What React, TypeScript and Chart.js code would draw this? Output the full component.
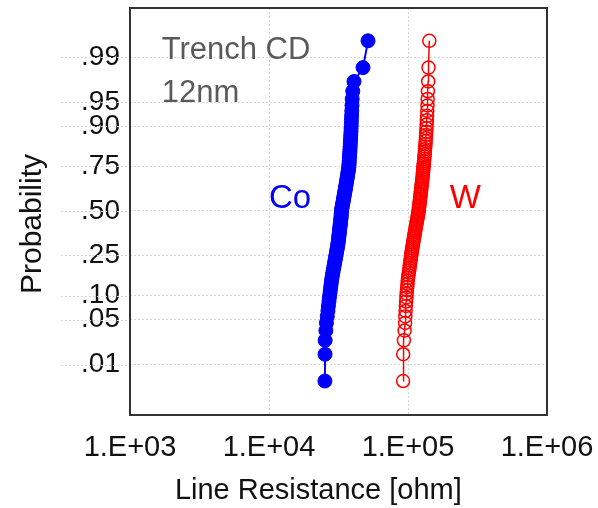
import React, { useEffect, useRef } from "react";
import { Chart, registerables } from "chart.js";

Chart.register(...registerables);

// Cumulative probability (plotting position) of each ranked sample
const cumProb = [
  0.005, 0.015, 0.025, 0.035, 0.045, 0.055, 0.065, 0.075, 0.085, 0.095,
  0.105, 0.115, 0.125, 0.135, 0.145, 0.155, 0.165, 0.175, 0.185, 0.195,
  0.205, 0.215, 0.225, 0.235, 0.245, 0.255, 0.265, 0.275, 0.285, 0.295,
  0.305, 0.315, 0.325, 0.335, 0.345, 0.355, 0.365, 0.375, 0.385, 0.395,
  0.405, 0.415, 0.425, 0.435, 0.445, 0.455, 0.465, 0.475, 0.485, 0.495,
  0.505, 0.515, 0.525, 0.535, 0.545, 0.555, 0.565, 0.575, 0.585, 0.595,
  0.605, 0.615, 0.625, 0.635, 0.645, 0.655, 0.665, 0.675, 0.685, 0.695,
  0.705, 0.715, 0.725, 0.735, 0.745, 0.755, 0.765, 0.775, 0.785, 0.795,
  0.805, 0.815, 0.825, 0.835, 0.845, 0.855, 0.865, 0.875, 0.885, 0.895,
  0.905, 0.915, 0.925, 0.935, 0.945, 0.955, 0.965, 0.975, 0.985, 0.995,
];

// Co line resistance [ohm], sorted
const coOhm = [
  25250, 25300, 25350, 25650, 25900, 26250, 26540, 26760, 26990, 27210,
  27440, 27630, 27810, 28000, 28140, 28370, 28610, 28800, 29000, 29240,
  29430, 29630, 29820, 30020, 30220, 30420, 30570, 30770, 30930, 31130,
  31290, 31390, 31550, 31660, 31760, 31870, 31980, 32080, 32190, 32300,
  32400, 32510, 32620, 32730, 32830, 32940, 33000, 33050, 33110, 33160,
  33270, 33430, 33600, 33760, 33930, 34100, 34270, 34440, 34610, 34780,
  34950, 35130, 35310, 35490, 35660, 35840, 36020, 36200, 36380, 36570,
  36750, 36940, 37120, 37310, 37500, 37610, 37680, 37740, 37860, 37930,
  38050, 38180, 38240, 38370, 38430, 38560, 38690, 38750, 38880, 38950,
  39080, 39140, 39280, 39410, 39540, 39670, 40070, 40880, 47460, 51570,
];

// W line resistance [ohm], sorted
const wOhm = [
  92200, 92350, 93430, 94530, 95330, 95650, 96130, 96450, 96930, 97420,
  97740, 98230, 98720, 99210, 99540, 100040, 100710, 101380, 102050, 102560,
  103080, 103590, 104110, 104630, 105160, 105690, 106220, 106750, 107290, 107830,
  108370, 108910, 109460, 110010, 110560, 111120, 111680, 112240, 112800, 113370,
  113940, 114510, 115090, 115670, 116250, 116830, 117420, 118010, 118600, 119000,
  119400, 119800, 120200, 120600, 121000, 121410, 121820, 122220, 122630, 123040,
  123450, 123870, 124280, 124700, 125110, 125530, 125950, 126370, 126790, 127220,
  127640, 128070, 128500, 128710, 129140, 129570, 130010, 130440, 130880, 131320,
  131760, 132200, 132640, 133090, 133530, 133980, 134430, 134880, 135330, 135780,
  136240, 136690, 137150, 137610, 138080, 138540, 139010, 139710, 140410, 142300,
];

const probTicks = [0.01, 0.05, 0.1, 0.25, 0.5, 0.75, 0.9, 0.95, 0.99];
const probTickLabels = [".01", ".05", ".10", ".25", ".50", ".75", ".90", ".95", ".99"];
const xTickValues = [1e3, 1e4, 1e5, 1e6];
const xTickLabels = ["1.E+03", "1.E+04", "1.E+05", "1.E+06"];
const probMin = 0.001;
const probMax = 0.99894;

const FONT = "'Liberation Sans', Arial, Helvetica, sans-serif";

// inverse standard normal CDF (Acklam)
function probToZ(p: number): number {
  const a = [-3.969683028665376e1, 2.209460984245205e2, -2.759285104469687e2, 1.38357751867269e2, -3.066479806614716e1, 2.506628277459239];
  const b = [-5.447609879822406e1, 1.615858368580409e2, -1.556989798598866e2, 6.680131188771972e1, -1.328068155288572e1];
  const c = [-7.784894002430293e-3, -3.223964580411365e-1, -2.400758277161838, -2.549732539343734, 4.374664141464968, 2.938163982698783];
  const d = [7.784695709041462e-3, 3.224671290700398e-1, 2.445134137142996, 3.754408661907416];
  const pl = 0.02425;
  const ph = 1 - pl;
  if (p < pl) {
    const q = Math.sqrt(-2 * Math.log(p));
    return (((((c[0] * q + c[1]) * q + c[2]) * q + c[3]) * q + c[4]) * q + c[5]) / ((((d[0] * q + d[1]) * q + d[2]) * q + d[3]) * q + 1);
  }
  if (p <= ph) {
    const q = p - 0.5;
    const r = q * q;
    return ((((((a[0] * r + a[1]) * r + a[2]) * r + a[3]) * r + a[4]) * r + a[5]) * q) / (((((b[0] * r + b[1]) * r + b[2]) * r + b[3]) * r + b[4]) * r + 1);
  }
  const q = Math.sqrt(-2 * Math.log(1 - p));
  return -(((((c[0] * q + c[1]) * q + c[2]) * q + c[3]) * q + c[4]) * q + c[5]) / ((((d[0] * q + d[1]) * q + d[2]) * q + d[3]) * q + 1);
}

const annotations = [
  { text: "Trench CD", x: 1690, p: 0.9893, color: "#5a5a5a", size: 31 },
  { text: "12nm", x: 1690, p: 0.951, color: "#5a5a5a", size: 31 },
  { text: "Co", x: 1e4, p: 0.518, color: "#0000ff", size: 33 },
  { text: "W", x: 2.0e5, p: 0.515, color: "#ff0000", size: 33 },
];

const framePlugin = {
  id: "frame",
  beforeDatasetsDraw(chart: any) {
    const { ctx, chartArea, scales } = chart;
    const ys = scales.y;
    ctx.save();
    ctx.strokeStyle = "#d6d6d6";
    ctx.lineWidth = 1;
    ctx.setLineDash([2, 2]);
    for (const t of ys.ticks) {
      const py = Math.round(ys.getPixelForValue(t.value)) + 0.5;
      ctx.beginPath();
      ctx.moveTo(61, py);
      ctx.lineTo(chartArea.left, py);
      ctx.stroke();
    }
    ctx.restore();
  },
  afterDraw(chart: any) {
    const { ctx, chartArea, scales } = chart;
    ctx.save();
    ctx.strokeStyle = "#333333";
    ctx.lineWidth = 2;
    ctx.strokeRect(chartArea.left, chartArea.top, chartArea.right - chartArea.left, chartArea.bottom - chartArea.top);
    for (const a of annotations) {
      ctx.font = `${a.size}px ${FONT}`;
      ctx.fillStyle = a.color;
      ctx.textAlign = "left";
      ctx.textBaseline = "alphabetic";
      ctx.fillText(a.text, scales.x.getPixelForValue(a.x), scales.y.getPixelForValue(probToZ(a.p)));
    }
    ctx.restore();
  },
};

function zeroPad(s: any) {
  s.paddingTop = 0;
  s.paddingBottom = 0;
  s.paddingLeft = 0;
  s.paddingRight = 0;
}

export default function App() {
  const ref = useRef<HTMLCanvasElement>(null);
  useEffect(() => {
    if (!ref.current) return;
    const coData = coOhm.map((v, i) => ({ x: v, y: probToZ(cumProb[i]) }));
    const wData = wOhm.map((v, i) => ({ x: v, y: probToZ(cumProb[i]) }));
    const chart = new Chart(ref.current, {
      type: "scatter",
      data: {
        datasets: [
          {
            label: "Co",
            data: coData,
            showLine: true,
            borderColor: "#0000ff",
            backgroundColor: "#0000ff",
            borderWidth: 2,
            pointRadius: 7,
            pointBorderWidth: 1,
            pointBorderColor: "#0000ff",
            pointBackgroundColor: "#0000ff",
          },
          {
            label: "W",
            data: wData,
            showLine: true,
            borderColor: "#ff0000",
            backgroundColor: "rgba(0,0,0,0)",
            borderWidth: 1.5,
            pointRadius: 6.5,
            pointBorderWidth: 1.5,
            pointBorderColor: "#ff0000",
            pointBackgroundColor: "rgba(255,255,255,0)",
          },
        ],
      },
      options: {
        animation: false,
        responsive: false,
        devicePixelRatio: 1,
        layout: { padding: { left: 0, top: 6, right: 51, bottom: 0 } },
        plugins: { legend: { display: false }, tooltip: { enabled: false } },
        scales: {
          x: {
            type: "logarithmic",
            min: 1e3,
            max: 1e6,
            afterBuildTicks: (s: any) => {
              s.ticks = xTickValues.map((v) => ({ value: v }));
            },
            afterFit: (s: any) => {
              s.height = 93;
              zeroPad(s);
            },
            grid: { color: "#d6d6d6", lineWidth: 1, drawTicks: false },
            border: { display: false, dash: [2, 2] },
            ticks: {
              autoSkip: false,
              maxRotation: 0,
              padding: 16,
              color: "#111111",
              font: { family: FONT, size: 29 },
              callback: (_v: any, i: number) => xTickLabels[i],
            },
            title: {
              display: true,
              text: "Line Resistance [ohm]     ",
              color: "#111111",
              font: { family: FONT, size: 29 },
              padding: { top: 0, bottom: 0 },
            },
          },
          y: {
            type: "linear",
            min: probToZ(probMin),
            max: probToZ(probMax),
            afterBuildTicks: (s: any) => {
              s.ticks = probTicks.map((p) => ({ value: probToZ(p) }));
            },
            afterFit: (s: any) => {
              s.width = 130;
              zeroPad(s);
            },
            grid: { color: "#d6d6d6", lineWidth: 1, drawTicks: false },
            border: { display: false, dash: [2, 2] },
            ticks: {
              autoSkip: false,
              padding: 10,
              color: "#111111",
              font: { family: FONT, size: 28 },
              callback: (_v: any, i: number) => probTickLabels[i],
            },
            title: {
              display: true,
              text: "Probability   ",
              color: "#111111",
              font: { family: FONT, size: 30 },
              padding: { top: 15, bottom: 0 },
            },
          },
        },
      },
      plugins: [framePlugin],
    } as any);
    return () => chart.destroy();
  }, []);
  return (
    <div style={{ position: "absolute", left: 0, top: 0, width: 598, height: 508 }}>
      <canvas ref={ref} width={598} height={508} style={{ display: "block", width: 598, height: 508 }} />
    </div>
  );
}
